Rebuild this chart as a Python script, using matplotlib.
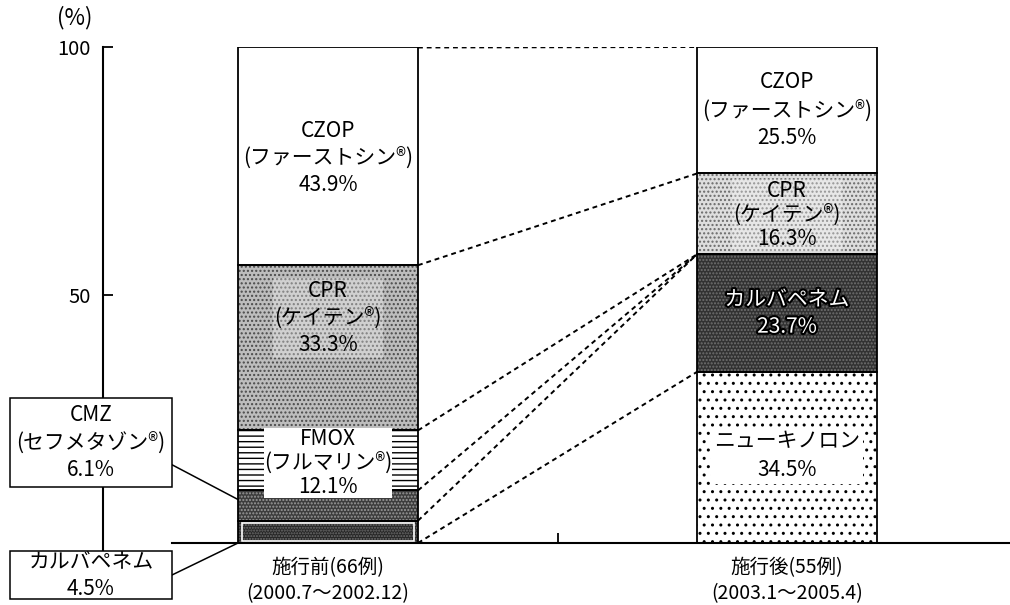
import numpy as np
import matplotlib.pyplot as plt
from matplotlib.patches import Rectangle
import matplotlib.patheffects as pe

plt.rcParams['font.family'] = ['Noto Sans CJK JP', 'DejaVu Sans']

# data
groups = ['施行前(66例)\n(2000.7～2002.12)', '施行後(55例)\n(2003.1～2005.4)']
before_names = ['カルバペネム', 'CMZ', 'FMOX', 'CPR', 'CZOP']
before_brand = ['', 'セフメタゾン®', 'フルマリン®', 'ケイテン®', 'ファーストシン®']
before_vals = [4.5, 6.1, 12.1, 33.3, 43.9]
after_names = ['ニューキノロン', 'カルバペネム', 'CPR', 'CZOP']
after_brand = ['', '', 'ケイテン®', 'ファーストシン®']
after_vals = [34.5, 23.7, 16.3, 25.5]


def make_label(name, brand, v):
    if brand:
        return f'{name}\n({brand})\n{v}%'
    return f'{name}\n{v}%'


W, H = 1010, 605
fig = plt.figure(figsize=(W / 100, H / 100), dpi=100)
ax = fig.add_axes([103 / W, (H - 543) / H, (W - 103) / W, (543 - 47) / H])
unit = 459.0
xmin = -(328 - 103) / unit
xmax = 1 + (1010 - 787) / unit
ax.set_xlim(xmin, xmax)
ax.set_ylim(0, 100)
bw = 180 / unit

# face, hatch, hatch colour
before_style = [('#262626', '......', '#6e6e6e'),
                ('#3c3c3c', '.....', '#9a9a9a'),
                ('white', '---', 'black'),
                ('#bdbdbd', '....', '#4a4a4a'),
                ('white', None, None)]
after_style = [('white', '..', 'black'),
               ('#323232', '.....', '#707070'),
               ('#dedede', '....', '#6a6a6a'),
               ('white', None, None)]


def draw_stack(x, vals, styles):
    bottoms = np.concatenate([[0], np.cumsum(vals)[:-1]])
    for v, b, (fc, h, hc) in zip(vals, bottoms, styles):
        ax.bar(x, v, bw, bottom=b, color=fc, edgecolor='none', zorder=2)
        if h:
            ax.bar(x, v, bw, bottom=b, fill=False, hatch=h, edgecolor=hc,
                   linewidth=0, zorder=3)
        ax.bar(x, v, bw, bottom=b, fill=False, edgecolor='black',
               linewidth=1.3, zorder=4)
    return bottoms


b_bot = draw_stack(0, before_vals, before_style)
a_bot = draw_stack(1, after_vals, after_style)

# white inner rim on the bottom segment of the first bar
ax.bar(0, before_vals[0] * 0.78, bw * 0.96, bottom=before_vals[0] * 0.1,
       fill=False, edgecolor='white', linewidth=1.2, zorder=4)

# dashed connectors between the bars
L = np.concatenate([[0], np.cumsum(before_vals)])
R = np.concatenate([[0], np.cumsum(after_vals)])
pairs = [(L[5], R[4]), (L[4], R[3]), (L[3], R[2]), (L[2], R[2]),
         (L[1], R[2]), (L[0], R[1])]
for l, r in pairs:
    ax.plot([bw / 2, 1 - bw / 2], [l, r], color='black', lw=1.4,
            ls=(0, (2.5, 2)), zorder=1)

# labels inside bars
lab_kw = dict(ha='center', va='center', fontsize=15, linespacing=1.3,
              zorder=6)
white_box = dict(facecolor='white', edgecolor='none', pad=0)
soft_box = dict(facecolor='white', edgecolor='none', alpha=0.3, pad=1)

# before bar: CMZ and carbapenem are in callout boxes
b_dy = [None, None, -0.5, 6.0, -0.3]
b_box = [None, None, white_box, soft_box, None]
b_ls = [1.3, 1.3, 1.1, 1.3, 1.3]
for i in range(len(before_vals)):
    if b_dy[i] is None:
        continue
    y = b_bot[i] + before_vals[i] / 2 + b_dy[i]
    kw = dict(lab_kw)
    kw['linespacing'] = b_ls[i]
    ax.text(0, y, make_label(before_names[i], before_brand[i], before_vals[i]),
            bbox=b_box[i], **kw)

a_dy = [0.4, 0, -0.2, 0]
for i in range(len(after_vals)):
    y = a_bot[i] + after_vals[i] / 2 + a_dy[i]
    txt = make_label(after_names[i], after_brand[i], after_vals[i])
    if i == 0:
        ax.text(1, y, txt, bbox=dict(facecolor='white', edgecolor='none',
                boxstyle='square,pad=0.15'), **dict(lab_kw, linespacing=1.45))
    elif i == 1:
        t = ax.text(1, y, txt, color='white', **lab_kw)
        t.set_path_effects([pe.withStroke(linewidth=3, foreground='black')])
    elif i == 2:
        ax.text(1, y, txt, bbox=soft_box, **dict(lab_kw, linespacing=1.1))
    else:
        ax.text(1, y, txt, **dict(lab_kw, linespacing=1.35))

# axes lines
for s in ax.spines.values():
    s.set_visible(False)
ax.plot([xmin, xmin], [-1.8, 100], color='black', lw=1.5, clip_on=False,
        zorder=1)
ax.plot([(172 - 328) / unit, xmax], [0, 0], color='black', lw=1.5,
        clip_on=False, zorder=5)
ax.set_yticks([50, 100])
ax.tick_params(axis='y', direction='in', length=7, width=1.3, pad=9,
               labelsize=14.5)
ax.set_xticks([0, 1], groups)
ax.tick_params(axis='x', which='major', length=0, pad=10, labelsize=14)
for t in ax.get_xticklabels():
    t.set_linespacing(1.3)
ax.set_xticks([0.5], minor=True)
ax.tick_params(axis='x', which='minor', direction='in', length=7, width=1.3)
fig.text(75 / W, 1 - 18 / H, '(%)', ha='center', va='center', fontsize=16)

# callout boxes on the left
def px(x, y):
    return (x / W, 1 - y / H)


boxes = [(10, 398, 162, 89, make_label(before_names[1], before_brand[1], before_vals[1]),
          (1, 0.25), b_bot[1] + before_vals[1] * 0.7),
         (10, 551, 162, 48, make_label(before_names[0], before_brand[0], before_vals[0]),
          (1, 0.5), b_bot[0])]
for x, y, w, h, txt, rel, ty in boxes:
    fig.add_artist(Rectangle(px(x, y + h), w / W, h / H,
                             transform=fig.transFigure, facecolor='white',
                             edgecolor='black', lw=1.1, zorder=5))
    fig.text(*px(x + w / 2, y + h / 2), txt, ha='center', va='center',
             fontsize=15, linespacing=1.3, zorder=6)
    ax.annotate('', xy=(-bw / 2, ty), xycoords='data',
                xytext=px(x + w * rel[0], y + h * (1 - rel[1])),
                textcoords='figure fraction',
                arrowprops=dict(arrowstyle='-', lw=1.1, color='black',
                                shrinkA=0, shrinkB=0),
                annotation_clip=False, zorder=5)

fig.savefig('out.png', dpi=100)
